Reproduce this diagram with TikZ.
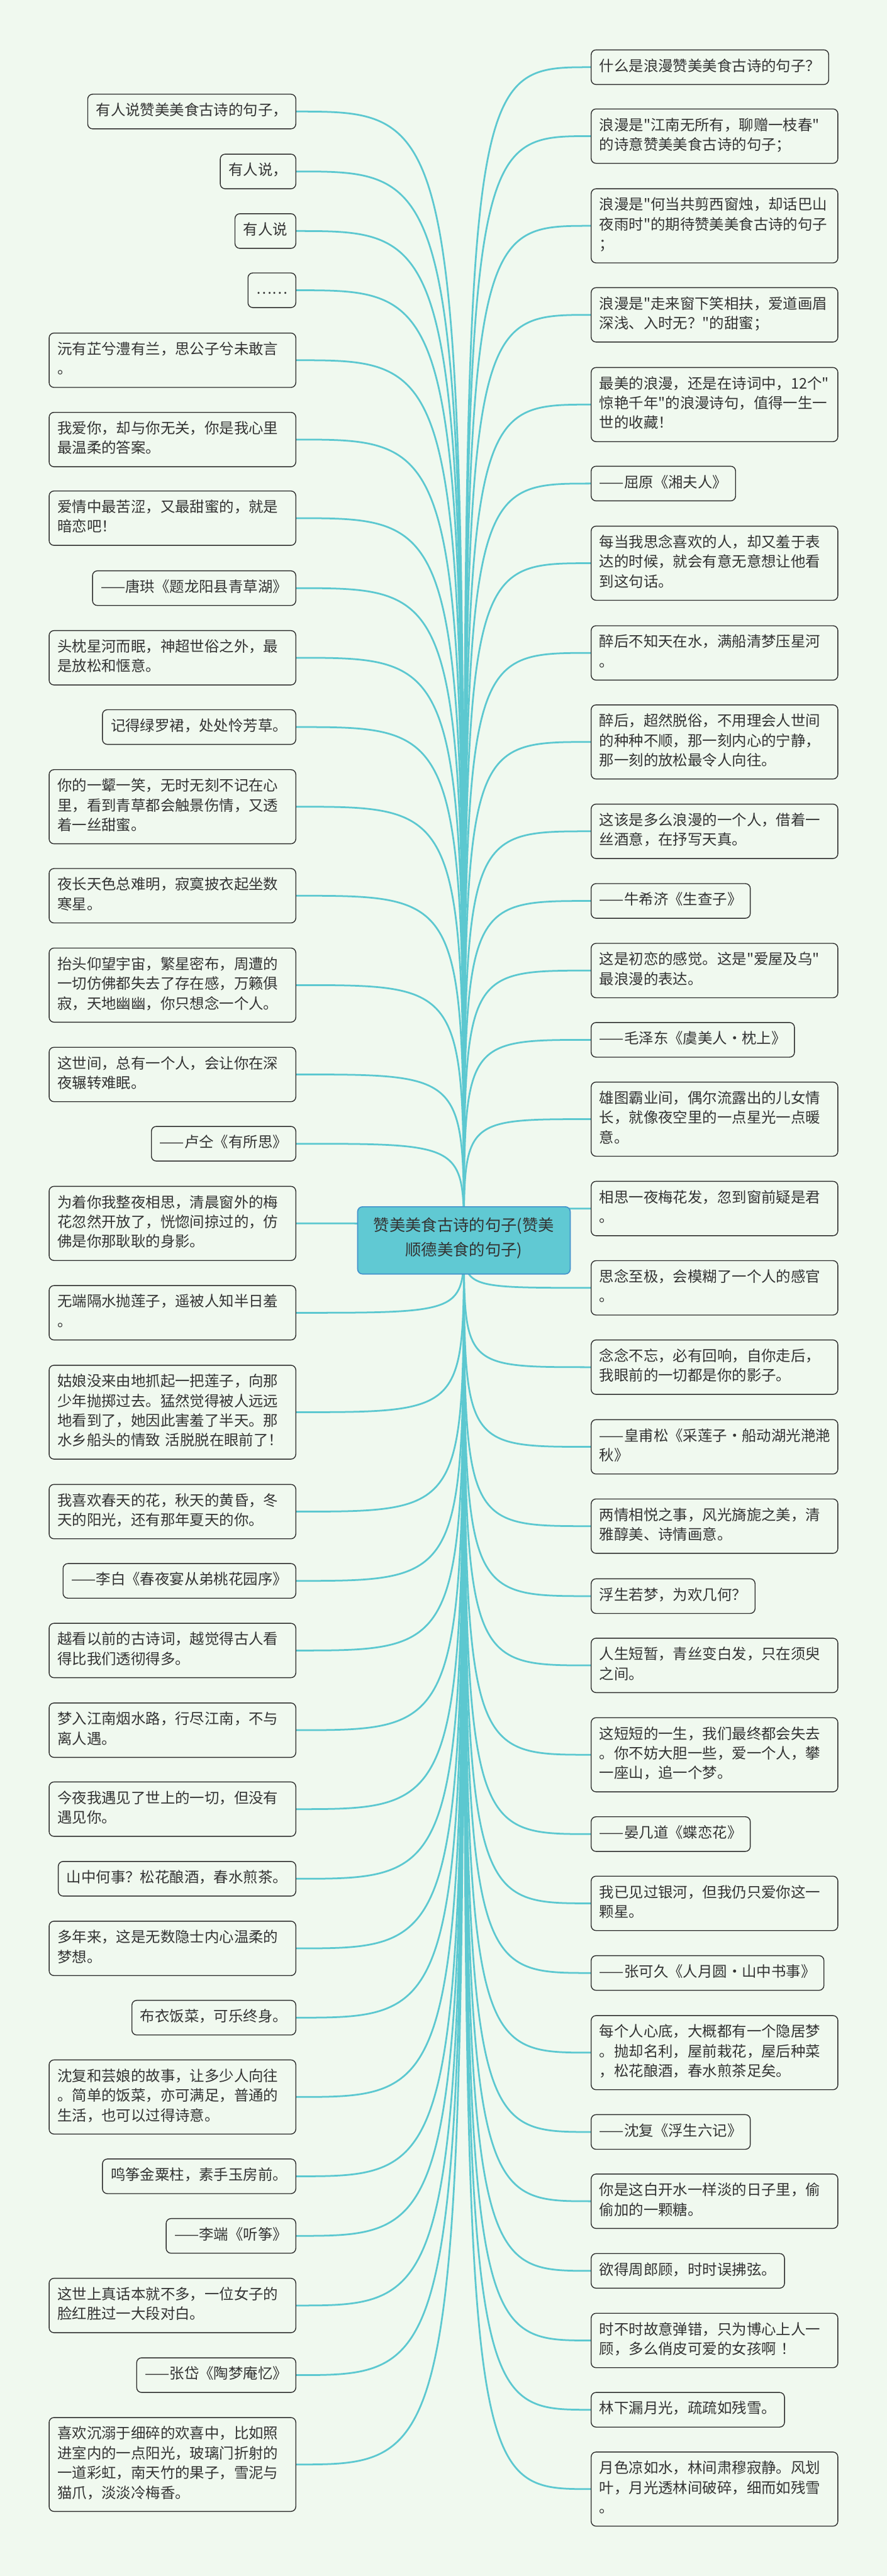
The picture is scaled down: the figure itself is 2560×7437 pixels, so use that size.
\documentclass[tikz,border=0pt]{standalone}
\usepackage{fontspec}
\newfontfamily\cjkfont{Noto Sans CJK SC}
\usetikzlibrary{backgrounds}
\definecolor{mint}{RGB}{240,249,239}
\definecolor{linkcol}{RGB}{92,200,208}
\definecolor{ink}{RGB}{51,51,51}
\definecolor{boxedge}{RGB}{45,45,45}
\definecolor{rootfill}{RGB}{96,201,211}
\definecolor{rootedge}{RGB}{66,146,204}
\tikzset{
  leaf/.style={draw=boxedge,fill=mint,line width=2.5pt,rounded corners=14pt,
    inner xsep=24pt,inner ysep=21.5pt,text=ink,align=left,
    font=\cjkfont\fontsize{42.5}{57}\selectfont,
    execute at begin node=\strut,execute at end node=\strut},
  wide/.style={text width=664pt},
  link/.style={draw=linkcol,line width=5pt,
    to path={.. controls (\tikztostart |- \tikztotarget) and (\tikztostart |- \tikztotarget) .. (\tikztotarget)}},
}
\begin{document}
\begin{tikzpicture}[x=1pt,y=-1pt]
\useasboundingbox (0,0) rectangle (2560,7437);
\node[draw=rootedge,fill=rootfill,line width=3pt,rounded corners=14pt,inner xsep=46pt,inner ysep=32pt,text=ink,align=center,
  font=\cjkfont\fontsize{46}{70}\selectfont,execute at begin node=\strut,execute at end node=\strut] (root) at (1339,3581) {赞美美食古诗的句子(赞美\\顺德美食的句子)};

\node[leaf,anchor=east] (l1) at (855,322) {有人说赞美美食古诗的句子，};
\node[leaf,anchor=east] (l2) at (855,495) {有人说，};
\node[leaf,anchor=east] (l3) at (855,667) {有人说};
\node[leaf,anchor=east] (l4) at (855,838) {……};
\node[leaf,wide,anchor=east] (l5) at (855,1040) {沅有芷兮澧有兰，思公子兮未敢言\\。};
\node[leaf,wide,anchor=east] (l6) at (855,1269) {我爱你，却与你无关，你是我心里\\最温柔的答案。};
\node[leaf,wide,anchor=east] (l7) at (855,1496) {爱情中最苦涩，又最甜蜜的，就是\\暗恋吧！};
\node[leaf,anchor=east] (l8) at (855,1698) {——唐珙《题龙阳县青草湖》};
\node[leaf,wide,anchor=east] (l9) at (855,1899) {头枕星河而眠，神超世俗之外，最\\是放松和惬意。};
\node[leaf,anchor=east] (l10) at (855,2099) {记得绿罗裙，处处怜芳草。};
\node[leaf,wide,anchor=east] (l11) at (855,2329) {你的一颦一笑，无时无刻不记在心\\里，看到青草都会触景伤情，又透\\着一丝甜蜜。};
\node[leaf,wide,anchor=east] (l12) at (855,2586) {夜长天色总难明，寂寞披衣起坐数\\寒星。};
\node[leaf,wide,anchor=east] (l13) at (855,2844) {抬头仰望宇宙，繁星密布，周遭的\\一切仿佛都失去了存在感，万籁俱\\寂，天地幽幽，你只想念一个人。};
\node[leaf,wide,anchor=east] (l14) at (855,3102) {这世间，总有一个人，会让你在深\\夜辗转难眠。};
\node[leaf,anchor=east] (l15) at (855,3302) {——卢仝《有所思》};
\node[leaf,wide,anchor=east] (l16) at (855,3532) {为着你我整夜相思，清晨窗外的梅\\花忽然开放了，恍惚间掠过的，仿\\佛是你那耿耿的身影。};
\node[leaf,wide,anchor=east] (l17) at (855,3790) {无端隔水抛莲子，遥被人知半日羞\\。};
\node[leaf,wide,anchor=east] (l18) at (855,4077) {姑娘没来由地抓起一把莲子，向那\\少年抛掷过去。猛然觉得被人远远\\地看到了，她因此害羞了半天。那\\水乡船头的情致 活脱脱在眼前了！};
\node[leaf,wide,anchor=east] (l19) at (855,4364) {我喜欢春天的花，秋天的黄昏，冬\\天的阳光，还有那年夏天的你。};
\node[leaf,anchor=east] (l20) at (855,4564) {——李白《春夜宴从弟桃花园序》};
\node[leaf,wide,anchor=east] (l21) at (855,4765) {越看以前的古诗词，越觉得古人看\\得比我们透彻得多。};
\node[leaf,wide,anchor=east] (l22) at (855,4995) {梦入江南烟水路，行尽江南，不与\\离人遇。};
\node[leaf,wide,anchor=east] (l23) at (855,5223) {今夜我遇见了世上的一切，但没有\\遇见你。};
\node[leaf,anchor=east] (l24) at (855,5424) {山中何事？松花酿酒，春水煎茶。};
\node[leaf,wide,anchor=east] (l25) at (855,5625) {多年来，这是无数隐士内心温柔的\\梦想。};
\node[leaf,anchor=east] (l26) at (855,5825) {布衣饭菜，可乐终身。};
\node[leaf,wide,anchor=east] (l27) at (855,6054) {沈复和芸娘的故事，让多少人向往\\。简单的饭菜，亦可满足，普通的\\生活，也可以过得诗意。};
\node[leaf,anchor=east] (l28) at (855,6283) {鸣筝金粟柱，素手玉房前。};
\node[leaf,anchor=east] (l29) at (855,6455) {——李端《听筝》};
\node[leaf,wide,anchor=east] (l30) at (855,6656) {这世上真话本就不多，一位女子的\\脸红胜过一大段对白。};
\node[leaf,anchor=east] (l31) at (855,6857) {——张岱《陶梦庵忆》};
\node[leaf,wide,anchor=east] (l32) at (855,7115) {喜欢沉溺于细碎的欢喜中，比如照\\进室内的一点阳光，玻璃门折射的\\一道彩虹，南天竹的果子，雪泥与\\猫爪，淡淡冷梅香。};

\node[leaf,anchor=west] (r1) at (1705,194) {什么是浪漫赞美美食古诗的句子？};
\node[leaf,wide,anchor=west] (r2) at (1705,393) {浪漫是"江南无所有，聊赠一枝春"\\的诗意赞美美食古诗的句子；};
\node[leaf,wide,anchor=west] (r3) at (1705,652) {浪漫是"何当共剪西窗烛，却话巴山\\夜雨时"的期待赞美美食古诗的句子\\；};
\node[leaf,wide,anchor=west] (r4) at (1705,909) {浪漫是"走来窗下笑相扶，爱道画眉\\深浅、入时无？"的甜蜜；};
\node[leaf,wide,anchor=west] (r5) at (1705,1168) {最美的浪漫，还是在诗词中，12个"\\惊艳千年"的浪漫诗句，值得一生一\\世的收藏！};
\node[leaf,anchor=west] (r6) at (1705,1396) {——屈原《湘夫人》};
\node[leaf,wide,anchor=west] (r7) at (1705,1626) {每当我思念喜欢的人，却又羞于表\\达的时候，就会有意无意想让他看\\到这句话。};
\node[leaf,wide,anchor=west] (r8) at (1705,1885) {醉后不知天在水，满船清梦压星河\\。};
\node[leaf,wide,anchor=west] (r9) at (1705,2142) {醉后，超然脱俗，不用理会人世间\\的种种不顺，那一刻内心的宁静，\\那一刻的放松最令人向往。};
\node[leaf,wide,anchor=west] (r10) at (1705,2400) {这该是多么浪漫的一个人，借着一\\丝酒意，在抒写天真。};
\node[leaf,anchor=west] (r11) at (1705,2601) {——牛希济《生查子》};
\node[leaf,wide,anchor=west] (r12) at (1705,2802) {这是初恋的感觉。这是"爱屋及乌"\\最浪漫的表达。};
\node[leaf,anchor=west] (r13) at (1705,3002) {——毛泽东《虞美人·枕上》};
\node[leaf,wide,anchor=west] (r14) at (1705,3231) {雄图霸业间，偶尔流露出的儿女情\\长，就像夜空里的一点星光一点暖\\意。};
\node[leaf,wide,anchor=west] (r15) at (1705,3489) {相思一夜梅花发，忽到窗前疑是君\\。};
\node[leaf,wide,anchor=west] (r16) at (1705,3718) {思念至极，会模糊了一个人的感官\\。};
\node[leaf,wide,anchor=west] (r17) at (1705,3947) {念念不忘，必有回响，自你走后，\\我眼前的一切都是你的影子。};
\node[leaf,wide,anchor=west] (r18) at (1705,4177) {——皇甫松《采莲子·船动湖光滟滟\\秋》};
\node[leaf,wide,anchor=west] (r19) at (1705,4406) {两情相悦之事，风光旖旎之美，清\\雅醇美、诗情画意。};
\node[leaf,anchor=west] (r20) at (1705,4608) {浮生若梦，为欢几何？};
\node[leaf,wide,anchor=west] (r21) at (1705,4808) {人生短暂，青丝变白发，只在须臾\\之间。};
\node[leaf,wide,anchor=west] (r22) at (1705,5066) {这短短的一生，我们最终都会失去\\。你不妨大胆一些，爱一个人，攀\\一座山，追一个梦。};
\node[leaf,anchor=west] (r23) at (1705,5295) {——晏几道《蝶恋花》};
\node[leaf,wide,anchor=west] (r24) at (1705,5495) {我已见过银河，但我仍只爱你这一\\颗星。};
\node[leaf,anchor=west] (r25) at (1705,5696) {——张可久《人月圆·山中书事》};
\node[leaf,wide,anchor=west] (r26) at (1705,5926) {每个人心底，大概都有一个隐居梦\\。抛却名利，屋前栽花，屋后种菜\\，松花酿酒，春水煎茶足矣。};
\node[leaf,anchor=west] (r27) at (1705,6155) {——沈复《浮生六记》};
\node[leaf,wide,anchor=west] (r28) at (1705,6355) {你是这白开水一样淡的日子里，偷\\偷加的一颗糖。};
\node[leaf,anchor=west] (r29) at (1705,6556) {欲得周郎顾，时时误拂弦。};
\node[leaf,wide,anchor=west] (r30) at (1705,6757) {时不时故意弹错，只为博心上人一\\顾，多么俏皮可爱的女孩啊 ！};
\node[leaf,anchor=west] (r31) at (1705,6957) {林下漏月光，疏疏如残雪。};
\node[leaf,wide,anchor=west] (r32) at (1705,7186) {月色凉如水，林间肃穆寂静。风划\\叶，月光透林间破碎，细而如残雪\\。};

\begin{scope}[on background layer]
\fill[mint] (0,0) rectangle (2560,7437);
\foreach \i in {1,...,32}
  \draw[link] (root.center) to (l\i.east) (root.center) to (r\i.west);
\end{scope}
\end{tikzpicture}
\end{document}
